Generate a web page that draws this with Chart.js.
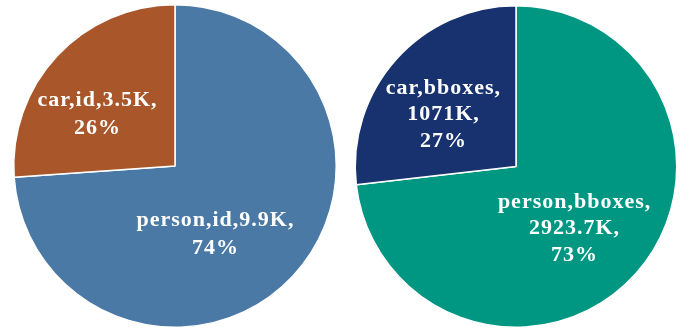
<!DOCTYPE html>
<html>
<head>
<meta charset="utf-8">
<script src="https://cdn.jsdelivr.net/npm/chart.js@4/dist/chart.umd.min.js"></script>
<style>
  html, body { margin: 0; padding: 0; background: #fff; overflow: hidden; }
  #wrap { position: relative; width: 689px; height: 328px; }
  canvas { position: absolute; top: 0; }
  #idPie { left: 0; }
  #boxPie { left: 343px; }
</style>
</head>
<body>
<div id="wrap">
  <canvas id="idPie" width="350" height="328"></canvas>
  <canvas id="boxPie" width="346" height="328"></canvas>
</div>
<script>
const CLASSES = ["person", "car"];
const ID_COUNTS = [9.9, 3.5];          // thousands of identities
const BBOX_COUNTS = [2923.7, 1071];    // thousands of boxes
const ID_COLORS = ["#4a79a6", "#a8562a"];
const BBOX_COLORS = ["#009782", "#17326e"];

const LABEL_FONT = "bold 22px 'Liberation Serif', 'Times New Roman', serif";

// slice labels: "class,series,valueK," then the share as a percentage
const sliceLabels = {
  id: "sliceLabels",
  afterDatasetsDraw(chart, args, opts) {
    const meta = chart.getDatasetMeta(0);
    const values = chart.data.datasets[0].data;
    const total = values.reduce((s, v) => s + v, 0);
    const ctx = chart.ctx;
    ctx.save();
    ctx.font = LABEL_FONT;
    ctx.letterSpacing = "1px";
    ctx.fillStyle = "#fff";
    ctx.textAlign = "center";
    ctx.textBaseline = "middle";
    meta.data.forEach((arc, i) => {
      const p = arc.getProps(["x", "y", "startAngle", "endAngle", "outerRadius"], true);
      const mid = (p.startAngle + p.endAngle) / 2;
      const r = p.outerRadius * opts.radius;
      const cx = p.x + Math.cos(mid) * r + opts.nudge[i][0];
      const cy = p.y + Math.sin(mid) * r + opts.nudge[i][1];
      const head = chart.data.labels[i] + "," + opts.series + ",";
      const val = values[i] + "K,";
      const pct = Math.round(values[i] / total * 100) + "%";
      const lines = opts.splitValue ? [head, val, pct] : [head + val, pct];
      const lh = opts.lineHeight;
      const top = cy - (lines.length - 1) * lh / 2;
      lines.forEach((t, k) => ctx.fillText(t, cx, top + k * lh));
    });
    ctx.restore();
  }
};

function pieChart(canvasId, values, colors, padding, labelOpts) {
  return new Chart(document.getElementById(canvasId), {
    type: "pie",
    data: {
      labels: CLASSES,
      datasets: [{
        data: values,
        backgroundColor: colors,
        borderColor: "#fff",
        borderWidth: 1.5,
        hoverOffset: 0,
      }],
    },
    options: {
      responsive: false,
      animation: false,
      events: [],
      layout: { padding },
      plugins: {
        legend: { display: false },
        tooltip: { enabled: false },
        sliceLabels: labelOpts,
      },
    },
    plugins: [sliceLabels],
  });
}

pieChart("idPie", ID_COUNTS, ID_COLORS, { top: 4, bottom: 0 }, {
  series: "id", splitValue: false, radius: 0.58, lineHeight: 28,
  nudge: [[-28, 5], [-9, 12]],
});

pieChart("boxPie", BBOX_COUNTS, BBOX_COLORS, { top: 5, bottom: 0 }, {
  series: "bboxes", splitValue: true, radius: 0.58, lineHeight: 26.5,
  nudge: [[-11, 0], [-3, 10]],
});
</script>
</body>
</html>
